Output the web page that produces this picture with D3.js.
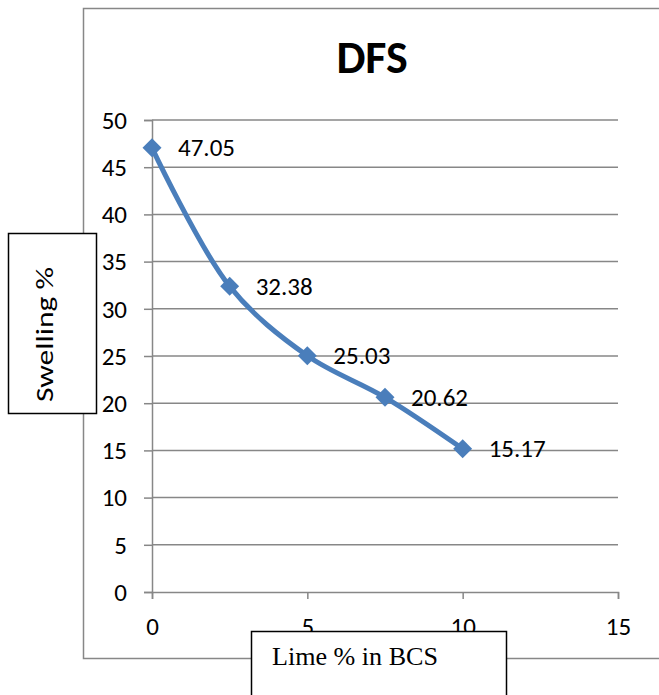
<!DOCTYPE html>
<html>
<head>
<meta charset="utf-8">
<script src="https://cdn.jsdelivr.net/npm/d3@7"></script>
<style>
  html, body { margin: 0; padding: 0; background: #fff; }
  svg { display: block; }
</style>
</head>
<body>
<div id="chart"></div>
<script>
// data
var limePct = [0, 2.5, 5, 7.5, 10];
var swelling = [47.05, 32.38, 25.03, 20.62, 15.17];
var xTicks = [0, 5, 10, 15];
var yTicks = [0, 5, 10, 15, 20, 25, 30, 35, 40, 45, 50];
var title = "DFS";
var xTitle = "Lime % in BCS";
var yTitle = "Swelling %";

var W = 659, H = 695;
var font = "Calibri, Carlito, Lato, sans-serif";
var grey = "#878787";
var blue = "#4a7ebb";

var svg = d3.select("#chart").append("svg").attr("width", W).attr("height", H);

// chart frame (right edge runs off the picture)
svg.append("path")
  .attr("d", "M 662 8.5 H 83.5 V 658.5 H 662")
  .attr("fill", "none").attr("stroke", grey).attr("stroke-width", 1.5);

var x = d3.scaleLinear().domain([0, 15]).range([152, 618]);
var y = d3.scaleLinear().domain([0, 50]).range([592, 120]);

// gridlines
svg.append("g").selectAll("line").data(yTicks.slice(1)).join("line")
  .attr("x1", x(0)).attr("x2", x(15))
  .attr("y1", function(d){ return y(d); }).attr("y2", function(d){ return y(d); })
  .attr("stroke", grey).attr("stroke-width", 1.5);

// y axis
var yAxis = svg.append("g").attr("transform", "translate(" + x(0) + ",0)")
  .call(d3.axisLeft(y).tickValues(yTicks).tickSize(8).tickPadding(17));
// x axis
var xAxis = svg.append("g").attr("transform", "translate(0," + y(0) + ")")
  .call(d3.axisBottom(x).tickValues(xTicks).tickSize(7).tickPadding(18));

[yAxis, xAxis].forEach(function(a){
  a.select(".domain").attr("stroke", grey).attr("stroke-width", 1.5);
  a.selectAll(".tick line").attr("stroke", grey).attr("stroke-width", 1.5);
  a.selectAll(".tick text").attr("fill", "#000").style("font-family", font).style("font-size", "25px");
});
yAxis.selectAll(".tick text").attr("dy", "0.33em");

// title
svg.append("text").attr("x", 372).attr("y", 73).attr("text-anchor", "middle")
  .style("font-family", font).style("font-size", "46px").style("font-weight", "bold")
  .text(title);

var pts = limePct.map(function(d, i){ return [d, swelling[i]]; });

var line = d3.line()
  .x(function(d){ return x(d[0]); })
  .y(function(d){ return y(d[1]); })
  .curve(d3.curveCatmullRom.alpha(0.5));

svg.append("path").datum(pts)
  .attr("d", line)
  .attr("fill", "none").attr("stroke", blue).attr("stroke-width", 5)
  .attr("stroke-linejoin", "round").attr("stroke-linecap", "round");

var diamond = d3.symbol().type(d3.symbolSquare).size(180);
svg.append("g").selectAll("path").data(pts).join("path")
  .attr("d", diamond)
  .attr("transform", function(d){ return "translate(" + x(d[0]) + "," + y(d[1]) + ") rotate(45)"; })
  .attr("fill", blue);

svg.append("g").selectAll("text").data(pts).join("text")
  .attr("x", function(d){ return x(d[0]) + 26; })
  .attr("y", function(d){ return y(d[1]); })
  .attr("dy", "0.33em")
  .style("font-family", font).style("font-size", "25px")
  .text(function(d){ return d3.format(".2f")(d[1]); });

// y title box
svg.append("rect").attr("x", 8.5).attr("y", 233.5).attr("width", 88).attr("height", 180)
  .attr("fill", "#fff").attr("stroke", "#000").attr("stroke-width", 1.5);
svg.append("text")
  .attr("transform", "translate(53,402) rotate(-90)")
  .attr("textLength", 135).attr("lengthAdjust", "spacingAndGlyphs")
  .style("font-family", font).style("font-size", "25px")
  .text(yTitle);

// x title box
svg.append("rect").attr("x", 251.5).attr("y", 631.5).attr("width", 255).attr("height", 70)
  .attr("fill", "#fff").attr("stroke", "#000").attr("stroke-width", 1.5);
svg.append("text").attr("x", 272).attr("y", 665)
  .attr("textLength", 166).attr("lengthAdjust", "spacingAndGlyphs")
  .style("font-family", "'Times New Roman', 'Liberation Serif', serif").style("font-size", "26px")
  .text(xTitle);
</script>
</body>
</html>
